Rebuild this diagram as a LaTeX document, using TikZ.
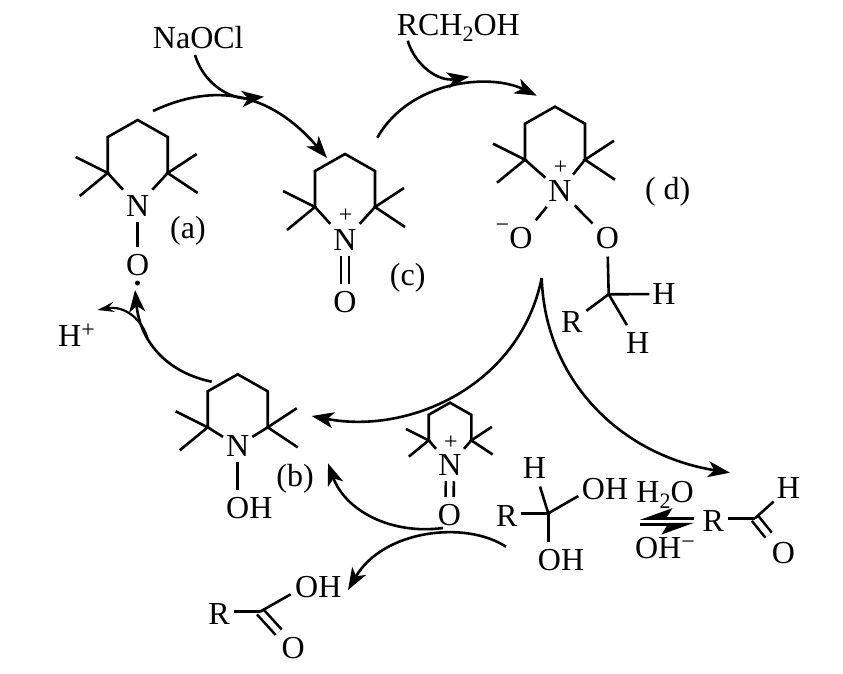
\documentclass[tikz,border=0pt]{standalone}
\usepackage{fontspec}
\setmainfont{Liberation Serif}
\usetikzlibrary{arrows.meta}

\tikzset{
  bond/.style={line width=2.6pt},
  dblbond/.style={bond,double,double distance=5.4pt},
  rxn/.style={line width=2.6pt,-{Stealth[length=22pt,width=16pt,inset=6pt]}},
  txt/.style={font=\fontsize{32}{36}\selectfont,inner sep=0pt,text height=21pt,text depth=0pt,minimum height=36pt},
  atom/.style={txt,minimum width=29pt},
  nitro/.style={atom,minimum height=32pt},
  charge/.style={font=\fontsize{24}{26}\selectfont,inner sep=0pt}
}

\newcommand{\chemsub}[1]{\raisebox{-6pt}{\fontsize{22}{24}\selectfont #1}}
\newcommand{\chemsup}[1]{\raisebox{9pt}{\fontsize{24}{26}\selectfont #1}}

% ring with the four methyl groups, #1 name, #2 #3 top vertex, #4 scale
\newcommand{\tempoRing}[4]{
  \begin{scope}[shift={(#2,#3)},scale=#4]
    \coordinate (#1UL) at (-30,17);
    \coordinate (#1LL) at (-30,53);
    \coordinate (#1UR) at (30,17);
    \coordinate (#1LR) at (30,53);
    \draw[bond] (#1LL) -- (#1UL) -- (0,0) -- (#1UR) -- (#1LR);
    \draw[bond] (-62,37) -- (#1LL) -- (-58,76);
    \draw[bond] (59,34) -- (#1LR) -- (60,73);
  \end{scope}
}

\begin{document}
\begin{tikzpicture}[x=1pt,y=-1pt]
  \useasboundingbox (0,0) rectangle (843,673);

  % (a)
  \tempoRing{a}{137.7}{120}{1}
  \node[nitro] (aN) at (137.7,205.7) {N};
  \node[atom] (aO) at (137.7,265) {O};
  \node[circle,fill,minimum size=5pt,inner sep=0pt] (aDot) at (137.5,283) {};
  \node[txt] (aLabel) at (188,227.5) {(a)};
  \draw[bond] (aLL) -- (aN);
  \draw[bond] (aLR) -- (aN);
  \draw[bond] (aN) -- (aO);

  % (c)
  \tempoRing{c}{345}{154}{1}
  \node[nitro] (cN) at (345,240) {N};
  \node[charge] (cPlus) at (345.7,216) {+};
  \node[atom] (cO) at (345,301.7) {O};
  \node[txt] (cLabel) at (407.7,274.5) {(c)};
  \draw[bond] (cLL) -- (cN);
  \draw[bond] (cLR) -- (cN);
  \draw[dblbond] (cN) -- (cO);

  % (d)
  \tempoRing{d}{555}{106.7}{1}
  \node[nitro] (dN) at (560,190.7) {N};
  \node[charge] (dPlus) at (560.7,168) {+};
  \node[atom] (dOm) at (521,238.3) {O};
  \node[charge] (dMinus) at (502.5,228) {−};
  \node[atom] (dO) at (607.3,238.3) {O};
  \coordinate (dC) at (608.7,294.3);
  \node[atom] (dH) at (664,294) {H};
  \node[atom] (dHb) at (637.7,343.3) {H};
  \node[atom] (dR) at (571.7,321.7) {R};
  \node[txt] (dLabel) at (667.7,188.5) {( d)};
  \draw[bond] (dLL) -- (dN);
  \draw[bond] (dLR) -- (dN);
  \draw[bond] (dN) -- (dOm);
  \draw[bond] (dN) -- (dO);
  \draw[bond] (dO) -- (dC);
  \draw[bond] (dC) -- (dH);
  \draw[bond] (dC) -- (dHb);
  \draw[bond] (dC) -- (dR);

  % (b)
  \tempoRing{b}{237.7}{374.3}{1}
  \node[nitro] (bN) at (237.7,446) {N};
  \node[txt] (bOH) at (249.3,508) {OH};
  \node[txt] (bLabel) at (295,476) {(b)};
  \draw[bond] (bLL) -- (bN);
  \draw[bond] (bLR) -- (bN);
  \draw[bond] (bN) -- (bN |- bOH.north);

  % small oxidant
  \tempoRing{e}{450}{402.7}{0.71}
  \node[nitro] (eN) at (450,465) {N};
  \node[charge] (ePlus) at (451,442.7) {+};
  \node[atom] (eO) at (449.5,515) {O};
  \draw[bond] (eLL) -- (eN);
  \draw[bond] (eLR) -- (eN);
  \draw[dblbond] (eN) -- (eO);

  % hydrate
  \coordinate (hC) at (548.3,513.3);
  \coordinate (hEnd) at (578.3,496);
  \node[atom] (hR) at (506.7,515.7) {R};
  \node[atom] (hH) at (534.3,468.3) {H};
  \node[txt] (hOHa) at (605,489.3) {OH};
  \node[txt] (hOHb) at (561,560) {OH};
  \draw[bond] (hR.east |- hC) -- (hC);
  \draw[bond] (hH) -- (hC);
  \draw[bond] (hC) -- (hEnd);
  \draw[bond] (hC) -- (hC |- hOHb.north);

  % aldehyde
  \coordinate (alC) at (755,518.3);
  \node[atom] (alR) at (713.3,520.7) {R};
  \node[atom] (alH) at (788.3,488.3) {H};
  \node[atom] (alO) at (783.3,553.3) {O};
  \draw[dblbond] (alC) -- (alO);
  \draw[bond] (alR.east |- alC) -- (alC);
  \draw[bond] (alC) -- (alH);

  % acid
  \coordinate (acC) at (260,611.7);
  \coordinate (acEnd) at (290.7,594.3);
  \node[atom] (acR) at (219,614) {R};
  \node[txt] (acOH) at (318.3,587.3) {OH};
  \node[atom] (acO) at (293.3,648.3) {O};
  \draw[dblbond] (acC) -- (acO);
  \draw[bond] (acR.east |- acC) -- (acC);
  \draw[bond] (acC) -- (acEnd);

  % reagents
  \node[txt] (naocl) at (198.3,38.3) {NaOCl};
  \node[txt] (alcohol) at (458.3,25) {RCH\chemsub{2}OH};
  \node[txt,anchor=west] (proton) at (58,336) {H\chemsup{+}};
  \node[txt] (water) at (665,491.7) {H\chemsub{2}O};
  \node[txt] (hydroxide) at (665,548.3) {OH\chemsup{−}};

  % cycle arrows
  \coordinate (cusp) at (541.7,278);
  \coordinate (ac1) at (153,111);
  \coordinate (ac2) at (327,158);
  \coordinate (nas) at (195,55);
  \coordinate (nat) at (264,96.7);
  \coordinate (al1) at (407.7,40.7);
  \coordinate (al2) at (469.3,76.7);
  \coordinate (cd1) at (377.3,137.7);
  \coordinate (cd2) at (536.7,95.7);
  \coordinate (db) at (311.7,416);
  \coordinate (dal) at (730,472.7);
  \coordinate (ba1) at (211.7,381.7);
  \coordinate (ba2) at (135,290);
  \coordinate (hp1) at (148,340);
  \coordinate (hp2) at (97.3,310);
  \coordinate (hy1) at (506,546.7);
  \coordinate (hy2) at (348,590);
  \coordinate (eb1) at (443,528);
  \coordinate (eb2) at (328,463.3);
  \draw[rxn] (ac1) .. controls (215,82) and (270,92) .. (ac2);
  \draw[rxn] (nas) .. controls (204,85) and (232,100) .. (nat);
  \draw[rxn] (al1) .. controls (415,65) and (438,82) .. (al2);
  \draw[rxn] (cd1) .. controls (410,80) and (490,73) .. (cd2);
  \draw[rxn] (cusp) .. controls (520,385) and (410,435) .. (db);
  \draw[rxn] (cusp) .. controls (545,380) and (620,455) .. (dal);
  \draw[rxn] (ba1) .. controls (165,372) and (140,340) .. (ba2);
  \draw[line width=2.2pt,-{Stealth[length=17pt,width=10pt,inset=6pt]}] (hp1) .. controls (143,320) and (125,305) .. (hp2);
  \draw[rxn] (hy1) .. controls (465,520) and (383,530) .. (hy2);
  \draw[rxn] (eb1) .. controls (390,535) and (345,510) .. (eb2);

  % equilibrium
  \coordinate (eqa) at (694,518.3);
  \coordinate (eqb) at (640,518.3);
  \coordinate (eqc) at (640,524.3);
  \coordinate (eqd) at (694,524.3);
  \draw[line width=3pt,-{Stealth[harpoon,swap,length=28pt,width=20pt,inset=6pt]}] (eqa) -- (eqb);
  \draw[line width=3pt,-{Stealth[harpoon,swap,length=28pt,width=20pt,inset=6pt]}] (eqc) -- (eqd);
\end{tikzpicture}
\end{document}
